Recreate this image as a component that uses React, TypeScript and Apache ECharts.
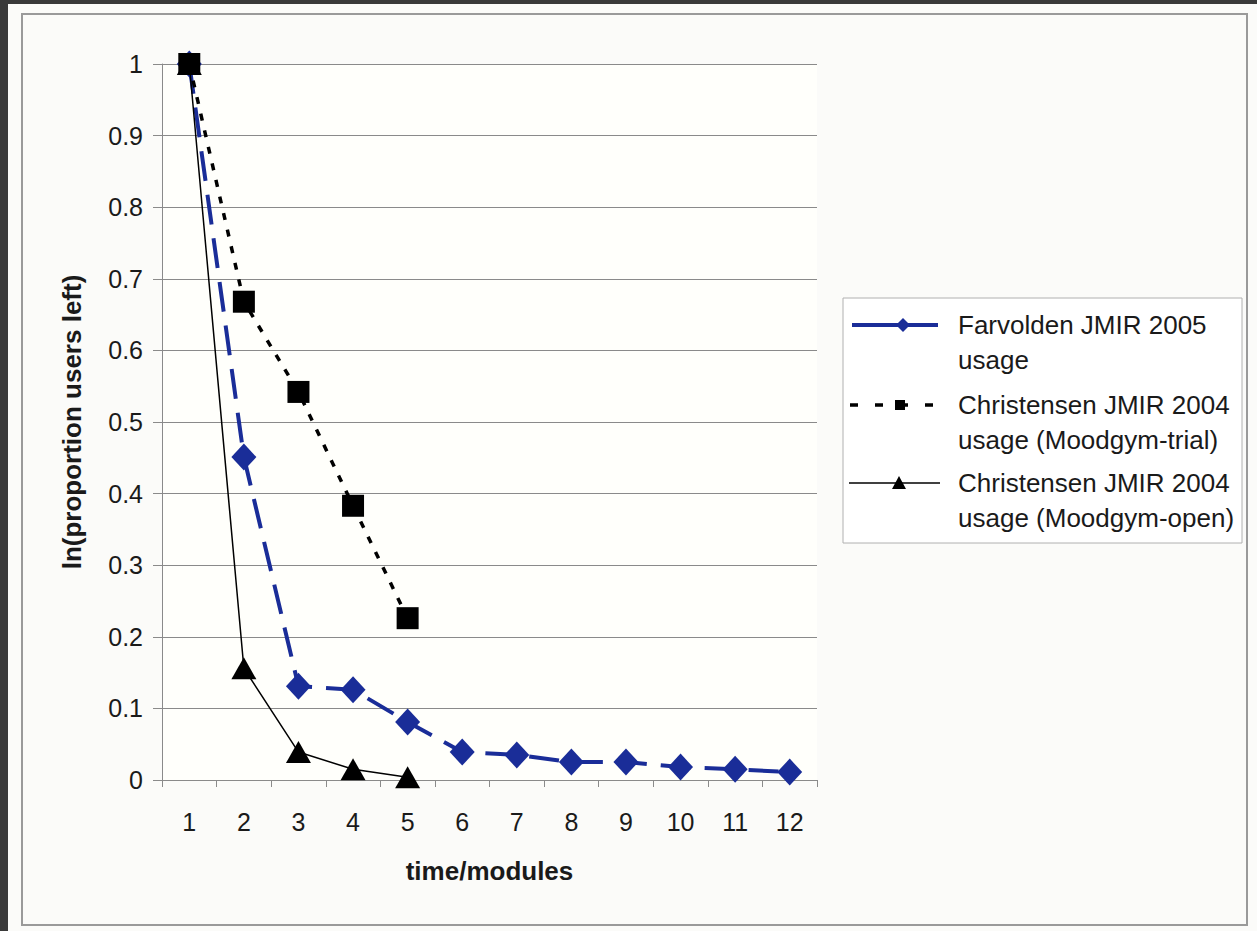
import React, { useEffect, useRef } from "react";
import * as echarts from "echarts";

const modules = ["1", "2", "3", "4", "5", "6", "7", "8", "9", "10", "11", "12"];
const farvolden = [1, 0.451, 0.131, 0.126, 0.081, 0.039, 0.035, 0.025, 0.025, 0.018, 0.015, 0.011];
const trial = [1, 0.668, 0.542, 0.383, 0.226];
const openUse = [1, 0.156, 0.039, 0.015, 0.004];
const seriesNames = [
  "Farvolden JMIR 2005 usage",
  "Christensen JMIR 2004 usage (Moodgym-trial)",
  "Christensen JMIR 2004 usage (Moodgym-open)",
];
const legendLines = [
  ["Farvolden JMIR 2005", "usage"],
  ["Christensen JMIR 2004", "usage (Moodgym-trial)"],
  ["Christensen JMIR 2004", "usage (Moodgym-open)"],
];
const xName = "time/modules";
const yName = "ln(proportion users left)";

const FONT = "'Liberation Sans', Arial, Helvetica, sans-serif";
const BLUE = "#1a2d98";

export default function App() {
  const ref = useRef<HTMLDivElement>(null);
  useEffect(() => {
    if (!ref.current) return;
    const chart = echarts.init(ref.current, undefined, { renderer: "svg" });
    const legendY = [325, 405, 483];
    const legendGraphics: any[] = [
      {
        type: "rect",
        shape: { x: 843, y: 298, width: 399, height: 245 },
        style: { fill: "#ffffff", stroke: "#b0b0b0", lineWidth: 1 },
        z: 100,
      },
      {
        type: "line",
        shape: { x1: 852, y1: legendY[0], x2: 938, y2: legendY[0] },
        style: { stroke: BLUE, lineWidth: 4 },
        z: 101,
      },
      {
        type: "polygon",
        shape: {
          points: [
            [903, legendY[0] - 7],
            [910, legendY[0]],
            [903, legendY[0] + 7],
            [896, legendY[0]],
          ],
        },
        style: { fill: BLUE },
        z: 102,
      },
      {
        type: "line",
        shape: { x1: 850, y1: legendY[1], x2: 940, y2: legendY[1] },
        style: { stroke: "#000", lineWidth: 3.5, lineDash: [8, 17] },
        z: 101,
      },
      {
        type: "rect",
        shape: { x: 895, y: legendY[1] - 5, width: 10, height: 10 },
        style: { fill: "#000" },
        z: 102,
      },
      {
        type: "line",
        shape: { x1: 849, y1: legendY[2], x2: 940, y2: legendY[2] },
        style: { stroke: "#000", lineWidth: 1.5 },
        z: 101,
      },
      {
        type: "polygon",
        shape: {
          points: [
            [899, legendY[2] - 7],
            [906, legendY[2] + 6],
            [892, legendY[2] + 6],
          ],
        },
        style: { fill: "#000" },
        z: 102,
      },
    ];
    legendLines.forEach((lines, i) => {
      lines.forEach((t, j) => {
        legendGraphics.push({
          type: "text",
          x: 958,
          y: legendY[i] + j * 35,
          style: {
            text: t,
            fill: "#1a1a1a",
            font: `26px ${FONT}`,
            verticalAlign: "middle",
            align: "left",
          },
          z: 102,
        });
      });
    });

    chart.setOption({
      animation: false,
      backgroundColor: "transparent",
      textStyle: { fontFamily: FONT },
      grid: {
        left: 162,
        right: 440,
        top: 64,
        bottom: 151,
        show: true,
        backgroundColor: "#fffffb",
        borderWidth: 0,
      },
      xAxis: {
        type: "category",
        data: modules,
        boundaryGap: true,
        name: xName,
        nameLocation: "middle",
        nameGap: 78,
        nameTextStyle: { fontSize: 26, fontWeight: "bold", color: "#1a1a1a", fontFamily: FONT },
        axisLine: { lineStyle: { color: "#8a8a8a", width: 1 } },
        axisTick: { show: true, length: 7, interval: 0, lineStyle: { color: "#8a8a8a" } },
        axisLabel: { fontSize: 25, color: "#1a1a1a", margin: 29, interval: 0, fontFamily: FONT },
        splitLine: { show: false },
      },
      yAxis: {
        type: "value",
        min: 0,
        max: 1,
        interval: 0.1,
        name: yName,
        nameLocation: "middle",
        nameGap: 77,
        nameTextStyle: { fontSize: 26, fontWeight: "bold", color: "#1a1a1a", fontFamily: FONT },
        axisLine: { show: true, lineStyle: { color: "#8a8a8a", width: 1 } },
        axisTick: { show: true, length: 9, lineStyle: { color: "#8a8a8a" } },
        axisLabel: {
          fontSize: 25,
          color: "#1a1a1a",
          margin: 19,
          fontFamily: FONT,
          formatter: (v: number) => String(Math.round(v * 10) / 10),
        },
        splitLine: { show: true, lineStyle: { color: "#8a8a8a", width: 1 } },
      },
      series: [
        {
          name: seriesNames[0],
          type: "line",
          data: farvolden,
          symbol: "diamond",
          symbolSize: [25, 27],
          itemStyle: { color: BLUE },
          lineStyle: { color: BLUE, width: 4, type: [30, 14] },
          z: 2,
        },
        {
          name: seriesNames[2],
          type: "line",
          data: openUse,
          symbol: "triangle",
          symbolSize: [25, 22],
          itemStyle: { color: "#000" },
          lineStyle: { color: "#000", width: 1.5, type: "solid" },
          z: 3,
        },
        {
          name: seriesNames[1],
          type: "line",
          data: trial,
          symbol: "rect",
          symbolSize: 22,
          itemStyle: { color: "#000" },
          lineStyle: { color: "#000", width: 3.5, type: [7, 10] },
          z: 4,
        },
      ],
      graphic: [
        {
          type: "rect",
          shape: { x: 22, y: 14, width: 1225, height: 911 },
          style: { fill: "none", stroke: "#9a9a9a", lineWidth: 2 },
          z: 50,
          silent: true,
        },
        ...legendGraphics,
      ],
    });
    return () => chart.dispose();
  }, []);

  return (
    <div style={{ position: "fixed", left: 0, top: 0, width: 1257, height: 931, background: "#3a3a3a", overflow: "hidden" }}>
      <div style={{ position: "absolute", left: 8, top: 4, width: 1249, height: 927, background: "#fbfbf9" }} />
      <div ref={ref} style={{ position: "absolute", left: 0, top: 0, width: 1257, height: 931 }} />
    </div>
  );
}
